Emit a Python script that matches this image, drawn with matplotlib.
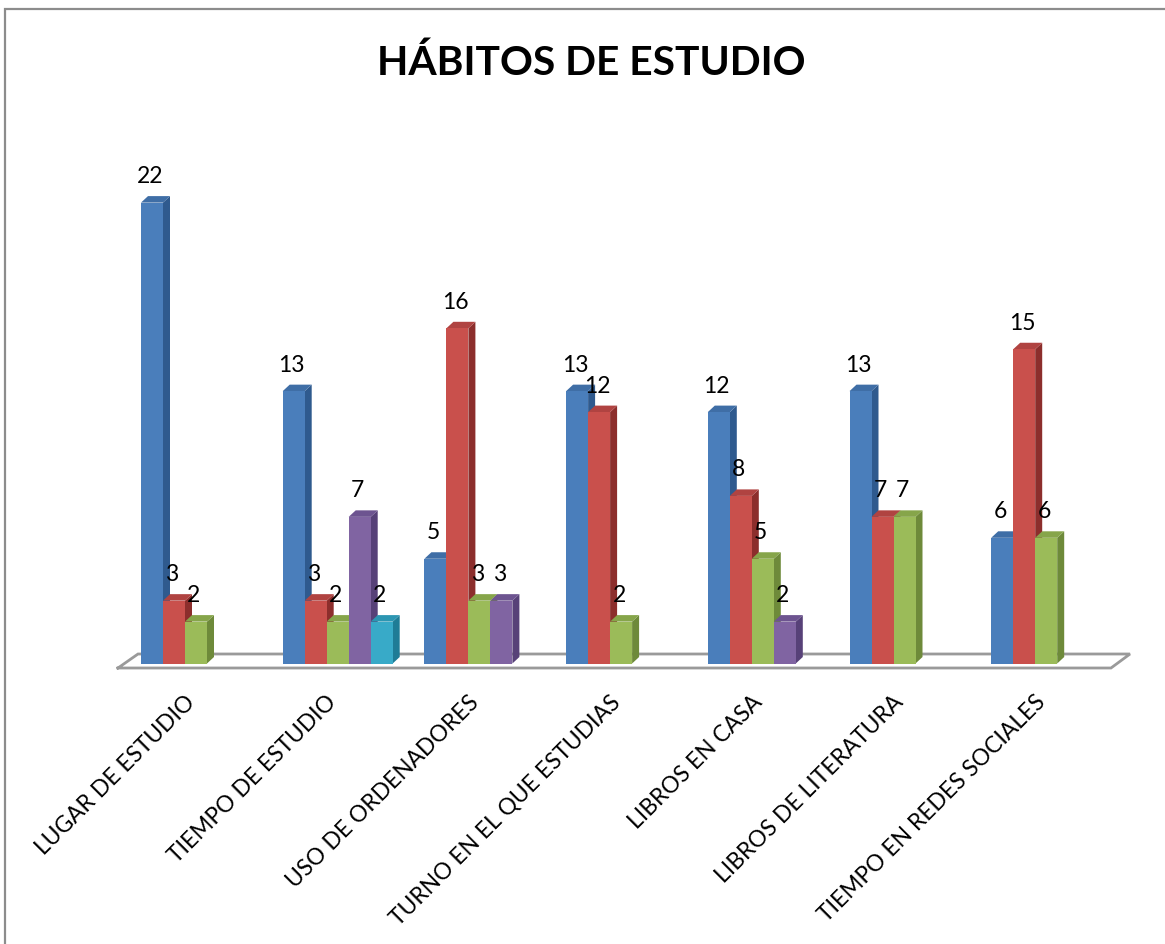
import matplotlib
matplotlib.use('Agg')
from matplotlib import pyplot as plt
from matplotlib.patches import Rectangle

plt.rcParams['font.family'] = ['Lato', 'DejaVu Sans']

categorias = ['LUGAR DE ESTUDIO', 'TIEMPO DE ESTUDIO', 'USO DE ORDENADORES',
              'TURNO EN EL QUE ESTUDIAS', 'LIBROS EN CASA', 'LIBROS DE LITERATURA',
              'TIEMPO EN REDES SOCIALES']

# None = la categoria no tiene esa barra
azul = [22, 13, 5, 13, 12, 13, 6]
rojo = [3, 3, 16, 12, 8, 7, 15]
verde = [2, 2, 3, 2, 5, 7, 6]
morado = [None, 7, 3, None, 2, None, None]
cian = [None, 2, None, None, None, None, None]

series = [azul, rojo, verde, morado, cian]
frente = ['#4a7ebb', '#c9504c', '#9bbb59', '#8064a2', '#38aac8']
lado = ['#2f5a8e', '#8c2e2c', '#6e8a3a', '#574178', '#1f7c96']
arriba = ['#3f6ea6', '#b04341', '#86a54a', '#6d5490', '#2c96b2']

# escala: 1 categoria = 141.7 px, 1 unidad = 20.95 px
W, H = 1165, 945
px_x, px_y = 141.7, 20.95
ancho = 22 / px_x
dx, dy = 7 / px_x, 6.5 / px_y

fig = plt.figure(figsize=(W / 100, H / 100), dpi=100)
ax = fig.add_axes([0, 0, 1, 1])
ax.set_xlim(-141 / px_x, (W - 141) / px_x)
ax.set_ylim(-(H - 664.5) / px_y, 664.5 / px_y)
ax.axis('off')

# marco del grafico
fig.add_artist(Rectangle((5 / W, -0.01), 1.01, 1 - 10 / H + 0.01, transform=fig.transFigure,
                         fill=False, edgecolor='#8c8c8c', linewidth=1.6))

# suelo
ax.plot([-23 / px_x, 970 / px_x, 989 / px_x, -3 / px_x, -23 / px_x],
        [-4.5 / px_y, -4.5 / px_y, 9.5 / px_y, 9.5 / px_y, -4.5 / px_y],
        color='#9a9a9a', linewidth=2, solid_joinstyle='miter', zorder=1)

for g, cat in enumerate(categorias):
    pos = 0
    for s, vals in enumerate(series):
        v = vals[g]
        if v is None:
            continue
        x = g + pos * ancho
        z = 2 + pos
        ax.bar(x, v, width=ancho, align='edge', color=frente[s], linewidth=0, zorder=z + 0.5)
        ax.fill([x + ancho, x + ancho + dx, x + ancho + dx, x + ancho],
                [0, dy, v + dy, v], color=lado[s], linewidth=0, zorder=z)
        ax.fill([x, x + dx, x + ancho + dx, x + ancho],
                [v, v + dy, v + dy, v], color=arriba[s], linewidth=0, zorder=z)
        ax.text(x + ancho / 2 - 2 / px_x, v + 27 / px_y, str(v), ha='center', va='center',
                fontsize=16.5, color='black', zorder=20)
        pos += 1
    ax.text(g + 0.305, -27 / px_y, cat, rotation=45, rotation_mode='anchor', ha='right', va='top',
            fontsize=16.4, color='black', zorder=20)

fig.text(591 / W, 1 - 63 / H, 'HÁBITOS DE ESTUDIO', ha='center', va='center',
         fontsize=29.3, fontweight='bold', color='black')

fig.savefig('out.png', dpi=100, facecolor='white')
